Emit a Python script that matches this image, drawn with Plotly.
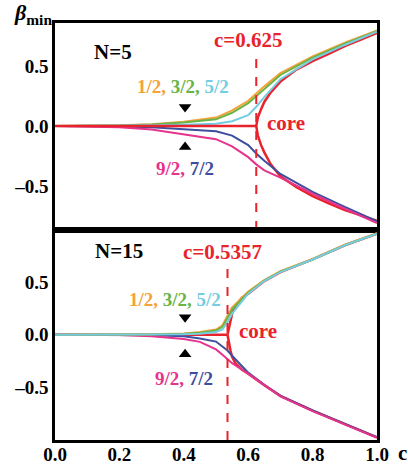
import plotly.graph_objects as go

# ---------------- data: N=5 (top panel) ----------------
c5 = [0, 0.1, 0.2, 0.3, 0.4, 0.5, 0.55, 0.6, 0.625, 0.65, 0.7, 0.8, 0.9, 1.0]
n5_12 = [0, 0.001, 0.005, 0.015, 0.035, 0.07, 0.13, 0.21, 0.27, 0.33, 0.44, 0.58, 0.695, 0.795]
n5_32 = [0, 0.001, 0.004, 0.012, 0.028, 0.055, 0.11, 0.19, 0.25, 0.31, 0.425, 0.57, 0.685, 0.79]
n5_52 = [0, 0.0, 0.002, 0.005, 0.01, 0.018, 0.04, 0.09, 0.16, 0.24, 0.39, 0.555, 0.675, 0.785]
n5_72 = [0, -0.001, -0.004, -0.01, -0.025, -0.045, -0.08, -0.16, -0.23, -0.29, -0.40, -0.55, -0.675, -0.795]
n5_92 = [0, -0.002, -0.01, -0.03, -0.07, -0.11, -0.17, -0.26, -0.32, -0.37, -0.43, -0.565, -0.69, -0.81]
c5_crit = 0.625
c5_flat = [0.0, 0.625]
n5_flat = [0, 0]
c5_core = [0.625, 0.63, 0.64, 0.65, 0.67, 0.7, 0.75, 0.8, 0.85, 0.9, 0.95, 1.0]
n5_core_up = [0, 0.07, 0.14, 0.2, 0.28, 0.37, 0.47, 0.54, 0.6, 0.665, 0.72, 0.775]
n5_core_lo = [0, -0.08, -0.16, -0.22, -0.32, -0.42, -0.51, -0.585, -0.645, -0.70, -0.745, -0.79]

# ---------------- data: N=15 (bottom panel) ----------------
c15 = [0, 0.1, 0.2, 0.3, 0.4, 0.45, 0.5, 0.52, 0.5357, 0.55, 0.6, 0.65, 0.7, 0.8, 0.9, 1.0]
n15_12 = [0, 0.0, 0.001, 0.004, 0.012, 0.025, 0.05, 0.09, 0.18, 0.26, 0.41, 0.52, 0.605, 0.72, 0.855, 0.965]
n15_32 = [0, 0, 0.001, 0.003, 0.009, 0.02, 0.04, 0.075, 0.16, 0.24, 0.40, 0.515, 0.6, 0.715, 0.85, 0.96]
n15_52 = [0, 0, 0, 0.001, 0.004, 0.01, 0.025, 0.05, 0.12, 0.2, 0.39, 0.51, 0.595, 0.715, 0.85, 0.96]
n15_72 = [0, 0, -0.001, -0.004, -0.015, -0.035, -0.065, -0.11, -0.15, -0.2, -0.36, -0.475, -0.58, -0.72, -0.85, -0.975]
n15_92 = [0, -0.001, -0.003, -0.015, -0.04, -0.068, -0.14, -0.19, -0.23, -0.27, -0.37, -0.48, -0.585, -0.725, -0.855, -0.98]
c15_crit = 0.5357
c15_flat = [0.0, 0.5357]
n15_flat = [0, 0]
c15_core = [0.5357, 0.54, 0.545, 0.55, 0.56, 0.58, 0.6, 0.65, 0.7, 0.8, 0.9, 1.0]
n15_core_up = [0, 0.07, 0.14, 0.2, 0.27, 0.35, 0.39, 0.51, 0.595, 0.715, 0.85, 0.96]
n15_core_lo = [0, -0.08, -0.15, -0.21, -0.27, -0.33, -0.37, -0.48, -0.58, -0.72, -0.85, -0.975]

x_ticks = [0.0, 0.2, 0.4, 0.6, 0.8, 1.0]
x_ticktext = ["0.0", "0.2", "0.4", "0.6", "0.8", "1.0"]
y_ticks = [-0.5, 0.0, 0.5]
y_ticktext = ["\u20130.5", "0.0", "0.5"]

# ---------------- styles ----------------
ORANGE = "#F4A23A"
GREEN = "#6AB446"
CYAN = "#74CDE3"
BLUE = "#3E4E9E"
MAGENTA = "#E6338C"
RED = "#E8232B"
FONT = "Liberation Serif"

fig = go.Figure()

def add_panel(xa, ya, c, s12, s32, s52, s72, s92, cf, nf, cc, cu, cl, crit,
              dash_top, ymin, flat_on_top):
    def line(x, y, col, w, dash=None):
        fig.add_trace(go.Scatter(x=x, y=y, mode="lines", xaxis=xa, yaxis=ya,
                                 line=dict(color=col, width=w, dash=dash),
                                 showlegend=False, hoverinfo="skip"))
    line(cc, cu, RED, 2.5)
    line(cc, cl, RED, 2.5)
    if not flat_on_top:
        line(cf, nf, RED, 2.5)
    for ys, col in [(s72, BLUE), (s92, MAGENTA), (s12, ORANGE), (s32, GREEN), (s52, CYAN)]:
        line(c, ys, col, 2)
    if flat_on_top:
        line(cf, nf, RED, 2.5)
    line([crit, crit], [ymin, dash_top], RED, 2, "dash")

top_range = [-0.867, 0.858]
bot_range = [-1.0, 0.995]

add_panel("x", "y", c5, n5_12, n5_32, n5_52, n5_72, n5_92, c5_flat, n5_flat,
          c5_core, n5_core_up, n5_core_lo, c5_crit, 0.63, top_range[0], True)
add_panel("x2", "y2", c15, n15_12, n15_32, n15_52, n15_72, n15_92, c15_flat, n15_flat,
          c15_core, n15_core_up, n15_core_lo, c15_crit, 0.66, bot_range[0], False)

# triangle pointers
tri_x = [0.404]
for xa, ya, yv, sym in [("x", "y", 0.158, "triangle-down"), ("x", "y", -0.175, "triangle-up"),
                        ("x2", "y2", 0.167, "triangle-down"), ("x2", "y2", -0.186, "triangle-up")]:
    fig.add_trace(go.Scatter(x=tri_x, y=[yv], mode="markers", xaxis=xa, yaxis=ya,
                             marker=dict(symbol=sym, size=11, color="black"),
                             showlegend=False, hoverinfo="skip"))

axis_common = dict(showline=True, mirror=True, linecolor="black", linewidth=2.5,
                   showgrid=False, zeroline=False, ticks="", automargin=False,
                   tickfont=dict(family=FONT, size=19, color="black"))

split = 210 / 417
bold = lambda L: [f"<b>{t}</b>" for t in L]
fig.update_layout(
    xaxis=dict(range=[0, 1], tickvals=x_ticks, ticktext=bold(x_ticktext),
               showticklabels=False, anchor="y", domain=[0, 1], **axis_common),
    yaxis=dict(range=top_range, tickvals=y_ticks, ticktext=bold(y_ticktext),
               anchor="x", domain=[split, 1], **axis_common),
    xaxis2=dict(range=[0, 1], tickvals=x_ticks, ticktext=bold(x_ticktext),
                anchor="y2", domain=[0, 1], ticklabelstandoff=-5, **axis_common),
    yaxis2=dict(range=bot_range, tickvals=y_ticks, ticktext=bold(y_ticktext),
                anchor="x2", domain=[0, split], **axis_common),
)

def ann(text, x, y, color, size, xref="x", yref="y"):
    fig.add_annotation(text=text, x=x, y=y, xref=xref, yref=yref, showarrow=False,
                       xanchor="center", yanchor="middle",
                       font=dict(family=FONT, size=size, color=color))

lab_up = (f"<b><span style='color:{ORANGE}'>1/2, </span><span style='color:{GREEN}'>3/2, </span>"
          f"<span style='color:{CYAN}'>5/2</span></b>")
lab_lo = (f"<b><span style='color:{MAGENTA}'>9/2, </span><span style='color:{BLUE}'>7/2</span></b>")

# top panel
ann("<b>N=5</b>", 0.18, 0.617, "black", 21, "x", "y")
ann("<b>c=0.625</b>", 0.602, 0.717, RED, 21, "x", "y")
ann(lab_up, 0.398, 0.333, "black", 19, "x", "y")
ann("<b>core</b>", 0.717, 0.025, RED, 21, "x", "y")
ann(lab_lo, 0.404, -0.358, "black", 19, "x", "y")

# bottom panel
ann("<b>N=15</b>", 0.199, 0.795, "black", 21, "x2", "y2")
ann("<b>c=0.5357</b>", 0.519, 0.786, RED, 21, "x2", "y2")
ann(lab_up, 0.373, 0.338, "black", 19, "x2", "y2")
ann("<b>core</b>", 0.630, 0.033, RED, 21, "x2", "y2")
ann(lab_lo, 0.40, -0.414, "black", 19, "x2", "y2")

# axis titles
ann("<b>c</b>", 1.078, -0.031, "black", 21, "paper", "paper")
fig.add_annotation(text="<b><i>\u03b2</i></b><b><sub>min</sub></b>", x=-0.135, y=1.0216,
                   xref="paper", yref="paper", showarrow=False, xanchor="left",
                   yanchor="middle", font=dict(family=FONT, size=22, color="black"))

fig.update_layout(width=408, height=466, margin=dict(l=55, r=31, t=23, b=26),
                  paper_bgcolor="white", plot_bgcolor="white")

fig.write_html("out.html")
